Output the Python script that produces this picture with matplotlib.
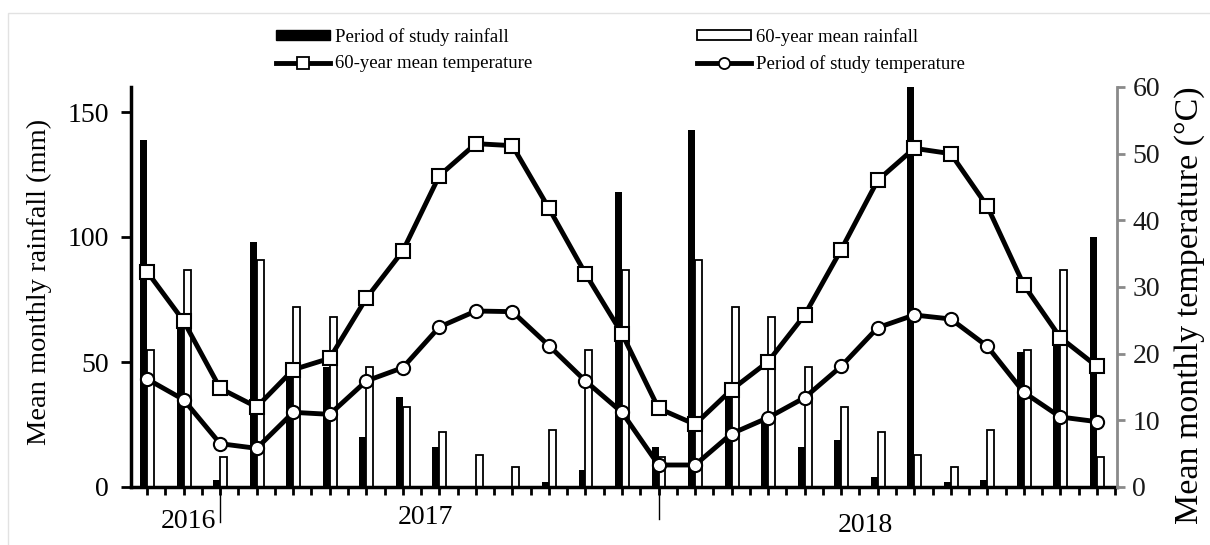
import matplotlib
matplotlib.use('Agg')
import matplotlib.pyplot as plt
import matplotlib.transforms as mtransforms
from matplotlib.patches import Patch, Rectangle
from matplotlib.lines import Line2D
import numpy as np

# ---- data (27 consecutive months) ----
months = list(range(27))
study_rain = [139, 65, 3, 98, 46, 48, 20, 36, 16, 0, 0, 2, 7, 118, 16, 143,
              37, 27, 16, 19, 4, 160, 2, 3, 54, 58, 100]
mean_rain = [55, 87, 12, 91, 72, 68, 48, 32, 22, 13, 8, 23, 55, 87, 12, 91,
             72, 68, 48, 32, 22, 13, 8, 23, 55, 87, 12]
mean_temp = [32.3, 24.9, 14.8, 12.0, 17.6, 19.3, 28.3, 35.4, 46.7, 51.5, 51.2,
             41.8, 32.0, 23.0, 11.8, 9.4, 14.6, 18.8, 25.8, 35.6, 46.0, 50.8,
             50.0, 42.1, 30.3, 22.4, 18.1]
study_temp = [16.2, 13.1, 6.5, 5.8, 11.2, 10.9, 15.9, 17.9, 24.0, 26.4, 26.3,
              21.2, 15.9, 11.2, 3.3, 3.3, 8.0, 10.4, 13.4, 18.1, 23.9, 25.8,
              25.2, 21.1, 14.2, 10.5, 9.8]
years = ['2016', '2017', '2018']
rain_ticks = [0, 50, 100, 150]
temp_ticks = [0, 10, 20, 30, 40, 50, 60]

labels = ['Period of study rainfall', '60-year mean temperature',
          '60-year mean rainfall', 'Period of study temperature']

serif = 'Liberation Serif'
plt.rcParams['font.family'] = serif

W, H = 1210, 545
fig = plt.figure(figsize=(W / 100, H / 100), dpi=100)
ax = fig.add_axes([131 / W, 58 / H, 986 / W, 400 / H])
ax2 = ax.twinx()

x = np.array(months, dtype=float)
bw = 0.19
ax.bar(x, study_rain, width=-bw, align='edge', color='black', zorder=2)
ax.bar(x, mean_rain, width=bw, align='edge', facecolor='white',
       edgecolor='black', linewidth=1.3, zorder=2)

ax2.plot(x, mean_temp, '-s', color='black', lw=3.5, ms=10, mfc='white',
         mec='black', mew=1.5, zorder=3)
ax2.plot(x, study_temp, '-o', color='black', lw=3.5, ms=9.5, mfc='white',
         mec='black', mew=1.5, zorder=3)

ax.set_xlim(-0.44, 26.55)
ax.set_ylim(0, 160)
ax2.set_ylim(0, 60)

for a in (ax, ax2):
    a.spines['top'].set_visible(False)
ax.spines['right'].set_visible(False)
ax2.spines['left'].set_visible(False)
ax2.spines['bottom'].set_visible(False)
ax.spines['left'].set_linewidth(2.5)
ax.spines['bottom'].set_linewidth(2.5)
ax2.spines['right'].set_linewidth(2)
ax2.spines['right'].set_color('#8a8a8a')

ax.set_yticks(rain_ticks)
ax.tick_params(axis='y', direction='out', length=7, width=2, labelsize=20,
               pad=9)
ax.set_xticks(np.arange(0, 27, 0.5))
ax.tick_params(axis='x', direction='out', length=6, width=2,
               labelbottom=False)
ax2.set_yticks(temp_ticks)
ax2.tick_params(axis='y', direction='out', length=6, width=2, color='#8a8a8a',
                labelsize=20, pad=5, labelcolor='#1a1a1a')

ax.set_ylabel('Mean monthly rainfall (mm)', fontsize=20.5)
ax.yaxis.set_label_coords(-0.080, 0.5125)
fig.text(1190 / W, 1 - 86 / H, 'Mean monthly temperature (°C)', rotation=90,
         ha='center', va='top', fontsize=24.5)

# year labels and dividers
tr = mtransforms.blended_transform_factory(ax.transData, ax.transAxes)
for yr, xp, yp in zip(years, [1.12, 7.62, 19.65], [-35, -31, -38]):
    ax.text(xp, yp / 400, yr, transform=tr, ha='center', va='center', fontsize=20)
for xp, depth in [(2, 35), (14, 32)]:
    ax.plot([xp, xp], [0, -depth / 400], transform=tr, color='black',
            lw=1, clip_on=False)

# legends
h_black = Patch(facecolor='black', edgecolor='black')
h_white = Patch(facecolor='white', edgecolor='black', linewidth=1.3)
h_sq = Line2D([], [], color='black', lw=3.5, marker='s', ms=8, mfc='white',
              mec='black', mew=1.3)
h_ci = Line2D([], [], color='black', lw=3.5, marker='o', ms=8, mfc='white',
              mec='black', mew=1.3)
common = dict(loc='upper left', frameon=False, prop={'family': serif, 'size': 13.5},
              handlelength=2.9, handleheight=0.4, handletextpad=0.25,
              labelspacing=0.5, borderpad=0, borderaxespad=0)
fig.legend([h_black, h_sq], labels[:2], bbox_to_anchor=(276 / W, 1 - 28 / H), **common)
fig.legend([h_white, h_ci], labels[2:], bbox_to_anchor=(697 / W, 1 - 28 / H), **common)

# chart-area border
fig.patches.append(Rectangle((8 / W, -0.05), 1.1, 1 - 13 / H + 0.05,
                             transform=fig.transFigure, fill=False,
                             edgecolor='#e2e2e2', lw=1))

fig.savefig('out.png', dpi=100)
